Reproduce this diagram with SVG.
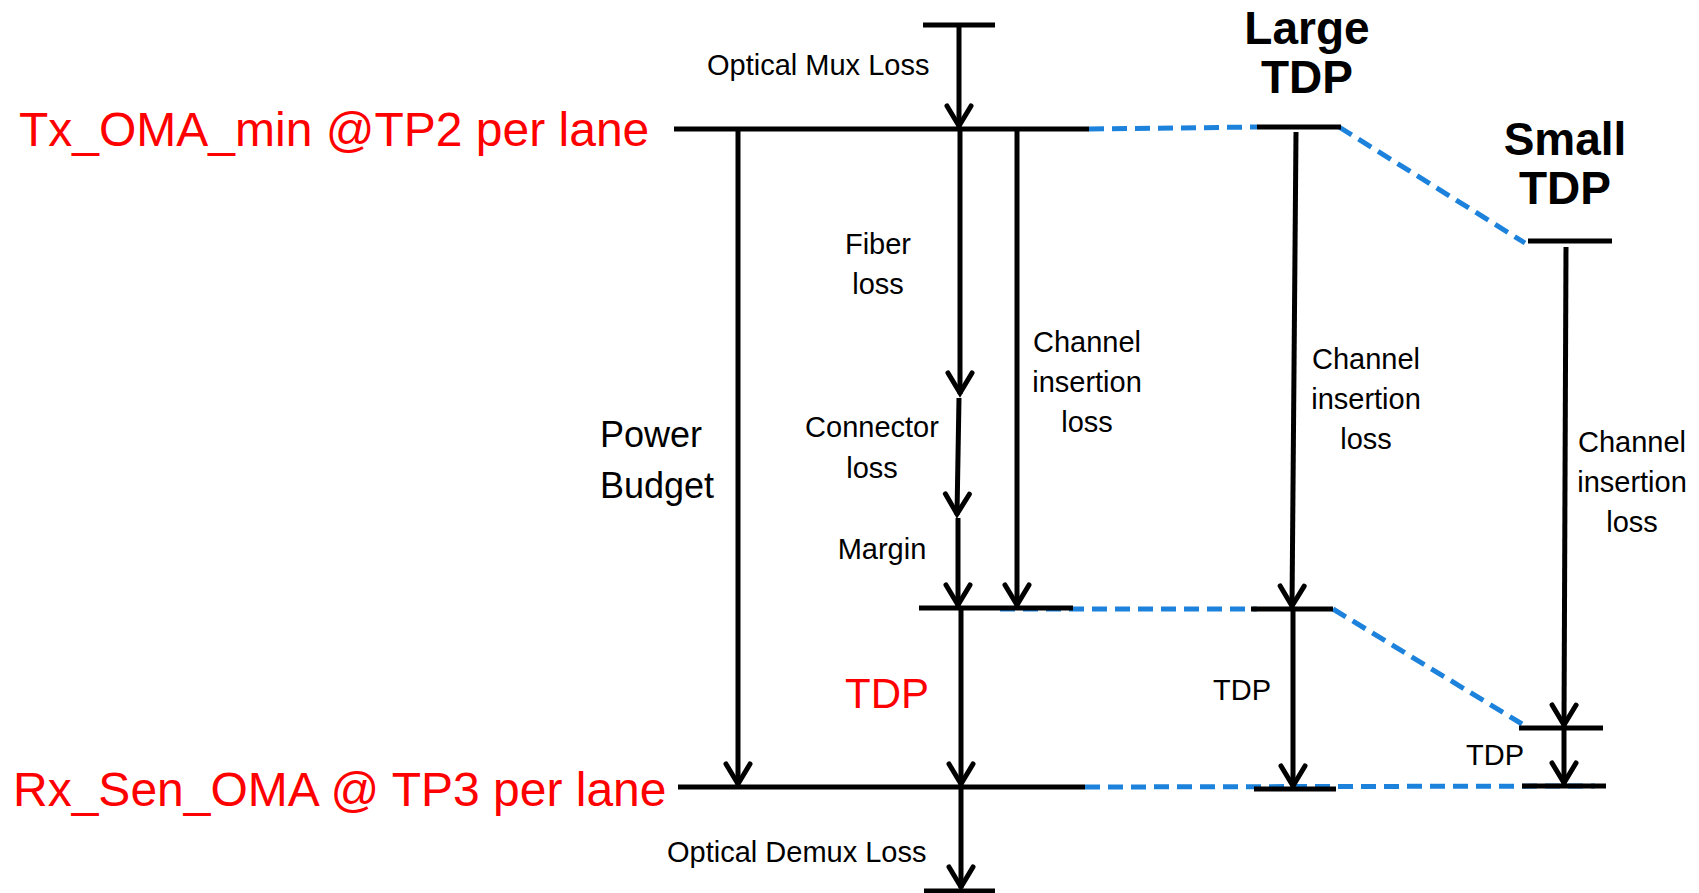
<svg xmlns="http://www.w3.org/2000/svg" width="1699" height="893" viewBox="0 0 1699 893">
<style>
  text { font-family: "Liberation Sans", Arial, sans-serif; }
  .lbl { font-size: 29px; fill: #000; }
  .red { fill: #ff0000; }
  .big { font-size: 48px; }
  .ttl { font-size: 46px; font-weight: bold; text-anchor: middle; }
  .mid { text-anchor: middle; }
  .bar { stroke: #000; stroke-width: 5; fill: none; }
  .arr { stroke: #000; stroke-width: 5; fill: none; marker-end: url(#ah); }
  .dash { stroke: #1c82dc; stroke-width: 5; fill: none; stroke-dasharray: 15 8; }
</style>
<defs>
  <marker id="ah" markerUnits="userSpaceOnUse" markerWidth="40" markerHeight="40" viewBox="-30 -20 40 40" refX="0" refY="0" orient="auto">
    <path d="M-21,-12 L-1,0 L-21,12" fill="none" stroke="#000" stroke-width="5" stroke-linecap="round"/>
  </marker>
</defs>
<rect width="1699" height="893" fill="#fff"/>

<g id="connectors">
  <line class="dash" x1="1089" y1="129" x2="1257" y2="127"/>
  <line class="dash" x1="1339" y1="127" x2="1525" y2="243"/>
  <line class="dash" x1="1000" y1="609" x2="1257" y2="609"/>
  <line class="dash" x1="1333" y1="609" x2="1522" y2="724"/>
  <line class="dash" x1="1085" y1="787" x2="1595" y2="786"/>

  <line class="arr" x1="959" y1="25" x2="959" y2="127"/>
  <line class="arr" x1="738" y1="131" x2="738" y2="785"/>
  <line class="arr" x1="960" y1="131" x2="960" y2="394"/>
  <line class="arr" x1="959" y1="398" x2="957" y2="515"/>
  <line class="arr" x1="958" y1="518" x2="958" y2="606"/>
  <line class="arr" x1="1017" y1="131" x2="1017" y2="606"/>
  <line class="arr" x1="961" y1="610" x2="961" y2="785"/>
  <line class="arr" x1="961" y1="789" x2="961" y2="888"/>
  <line class="arr" x1="1296" y1="132" x2="1292" y2="607"/>
  <line class="arr" x1="1293" y1="611" x2="1293" y2="787"/>
  <line class="arr" x1="1566" y1="247" x2="1564" y2="726"/>
  <line class="arr" x1="1564" y1="730" x2="1564" y2="784"/>
</g>

<g id="tx-level">
  <line class="bar" x1="674" y1="129" x2="1089" y2="129"/>
  <text class="red big" x="19" y="146">Tx_OMA_min @TP2 per lane</text>
</g>
<g id="mux-top">
  <line class="bar" x1="923" y1="25" x2="995" y2="25"/>
  <text class="lbl" x="707" y="75">Optical Mux Loss</text>
</g>
<g id="rx-level">
  <line class="bar" x1="678" y1="787" x2="1085" y2="787"/>
  <text class="red big" x="13" y="806">Rx_Sen_OMA @ TP3 per lane</text>
</g>
<g id="demux-bottom">
  <line class="bar" x1="924" y1="891" x2="995" y2="891"/>
  <text class="lbl" x="667" y="862">Optical Demux Loss</text>
</g>
<g id="power-budget">
  <text x="600" y="447" font-size="36">Power</text>
  <text x="600" y="498" font-size="36">Budget</text>
</g>
<g id="fiber-loss">
  <text class="lbl mid" x="878" y="254">Fiber</text>
  <text class="lbl mid" x="878" y="294">loss</text>
</g>
<g id="connector-loss">
  <text class="lbl mid" x="872" y="437">Connector</text>
  <text class="lbl mid" x="872" y="478">loss</text>
</g>
<g id="margin">
  <text class="lbl mid" x="882" y="559">Margin</text>
</g>
<g id="channel-il">
  <text class="lbl mid" x="1087" y="352">Channel</text>
  <text class="lbl mid" x="1087" y="392">insertion</text>
  <text class="lbl mid" x="1087" y="432">loss</text>
</g>
<g id="mid-level">
  <line class="bar" x1="919" y1="608" x2="1073" y2="608"/>
</g>
<g id="tdp">
  <text class="red mid" x="887" y="708" font-size="42">TDP</text>
</g>

<g id="large-tdp">
  <text class="ttl" x="1307" y="44">Large</text>
  <text class="ttl" x="1307" y="93">TDP</text>
  <line class="bar" x1="1257" y1="127" x2="1341" y2="127"/>
  <line class="bar" x1="1251" y1="609" x2="1333" y2="609"/>
  <line class="bar" x1="1254" y1="789" x2="1336" y2="789"/>
  <text class="lbl mid" x="1366" y="369">Channel</text>
  <text class="lbl mid" x="1366" y="409">insertion</text>
  <text class="lbl mid" x="1366" y="449">loss</text>
  <text class="lbl mid" x="1242" y="700">TDP</text>
</g>

<g id="small-tdp">
  <text class="ttl" x="1565" y="155">Small</text>
  <text class="ttl" x="1565" y="204">TDP</text>
  <line class="bar" x1="1528" y1="241" x2="1612" y2="241"/>
  <line class="bar" x1="1519" y1="728" x2="1603" y2="728"/>
  <line class="bar" x1="1522" y1="786" x2="1606" y2="786"/>
  <text class="lbl mid" x="1632" y="452">Channel</text>
  <text class="lbl mid" x="1632" y="492">insertion</text>
  <text class="lbl mid" x="1632" y="532">loss</text>
  <text class="lbl mid" x="1495" y="765">TDP</text>
</g>
</svg>
